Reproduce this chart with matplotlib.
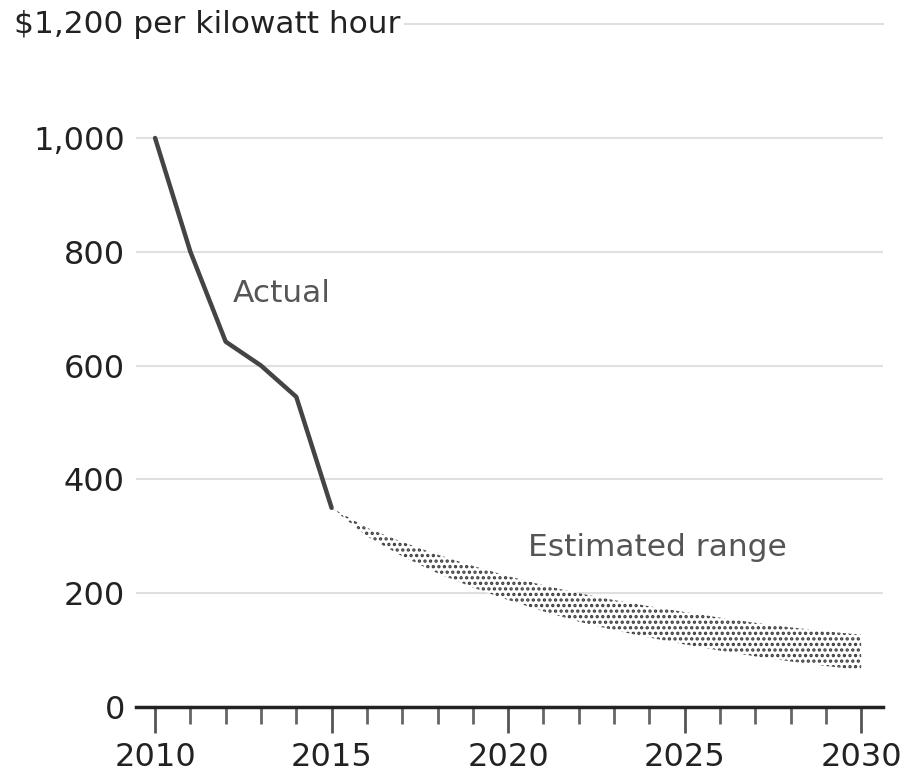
import matplotlib.pyplot as plt
from matplotlib.ticker import FixedLocator

plt.rcParams['font.family'] = ['DejaVu Sans']
plt.rcParams['hatch.linewidth'] = 1.6

# battery pack price, $ per kWh
years_actual = [2010, 2011, 2012, 2013, 2014, 2015]
price_actual = [1000, 800, 642, 600, 545, 350]

years_est = list(range(2015, 2031))
est_high = [350, 315, 290, 268, 248, 230, 214, 200, 188, 177, 167, 157, 148, 140, 133, 127]
est_low = [350, 300, 265, 235, 210, 188, 168, 150, 135, 122, 110, 99, 89, 80, 72, 65]

y_ticks = [0, 200, 400, 600, 800, 1000]
y_labels = ['0', '200', '400', '600', '800', '1,000']
x_major = [2010, 2015, 2020, 2025, 2030]

fig = plt.figure(figsize=(9.08, 7.8), dpi=100)
ax = fig.add_axes([0.1498, 0.0936, 0.8227, 0.8754])

ax.fill_between(years_est, est_low, est_high, facecolor='white',
                edgecolor='#3c3c3c', hatch='...', linewidth=0, zorder=2)
ax.plot(years_actual, price_actual, color='#444444', lw=3.2,
        solid_joinstyle='round', solid_capstyle='round', zorder=3)

ax.set_xlim(2009.46, 2030.62)
ax.set_ylim(0, 1200)

ax.set_yticks(y_ticks)
ax.set_yticklabels(y_labels)
ax.grid(axis='y', color='#e0e0e0', lw=1.5, zorder=0)
ax.tick_params(axis='y', length=0, pad=8, labelsize=23, labelcolor='#222222')

# top gridline carries the unit label
ax.axhline(1200, xmin=0.36, xmax=1, color='#e0e0e0', lw=1.5, clip_on=False, zorder=0)
ax.text(-0.163, 1200, '$1,200 per kilowatt hour', transform=ax.get_yaxis_transform(),
        ha='left', va='center', fontsize=22.5, color='#222222')

ax.set_xticks(x_major)
ax.xaxis.set_minor_locator(FixedLocator([y for y in range(2010, 2031) if y % 5]))
ax.tick_params(axis='x', which='major', length=19, width=2, color='#555555',
               labelsize=23, labelcolor='#222222', pad=6)
ax.tick_params(axis='x', which='minor', length=12, width=2, color='#666666')

for s in ['top', 'right', 'left']:
    ax.spines[s].set_visible(False)
ax.spines['bottom'].set_color('#222222')
ax.spines['bottom'].set_linewidth(2.5)

ax.text(2012.2, 726, 'Actual', fontsize=22.5, color='#555555', va='center')
ax.text(2020.55, 281, 'Estimated range', fontsize=22.5, color='#555555', va='center')

fig.savefig('out.png', dpi=100, facecolor='white')
